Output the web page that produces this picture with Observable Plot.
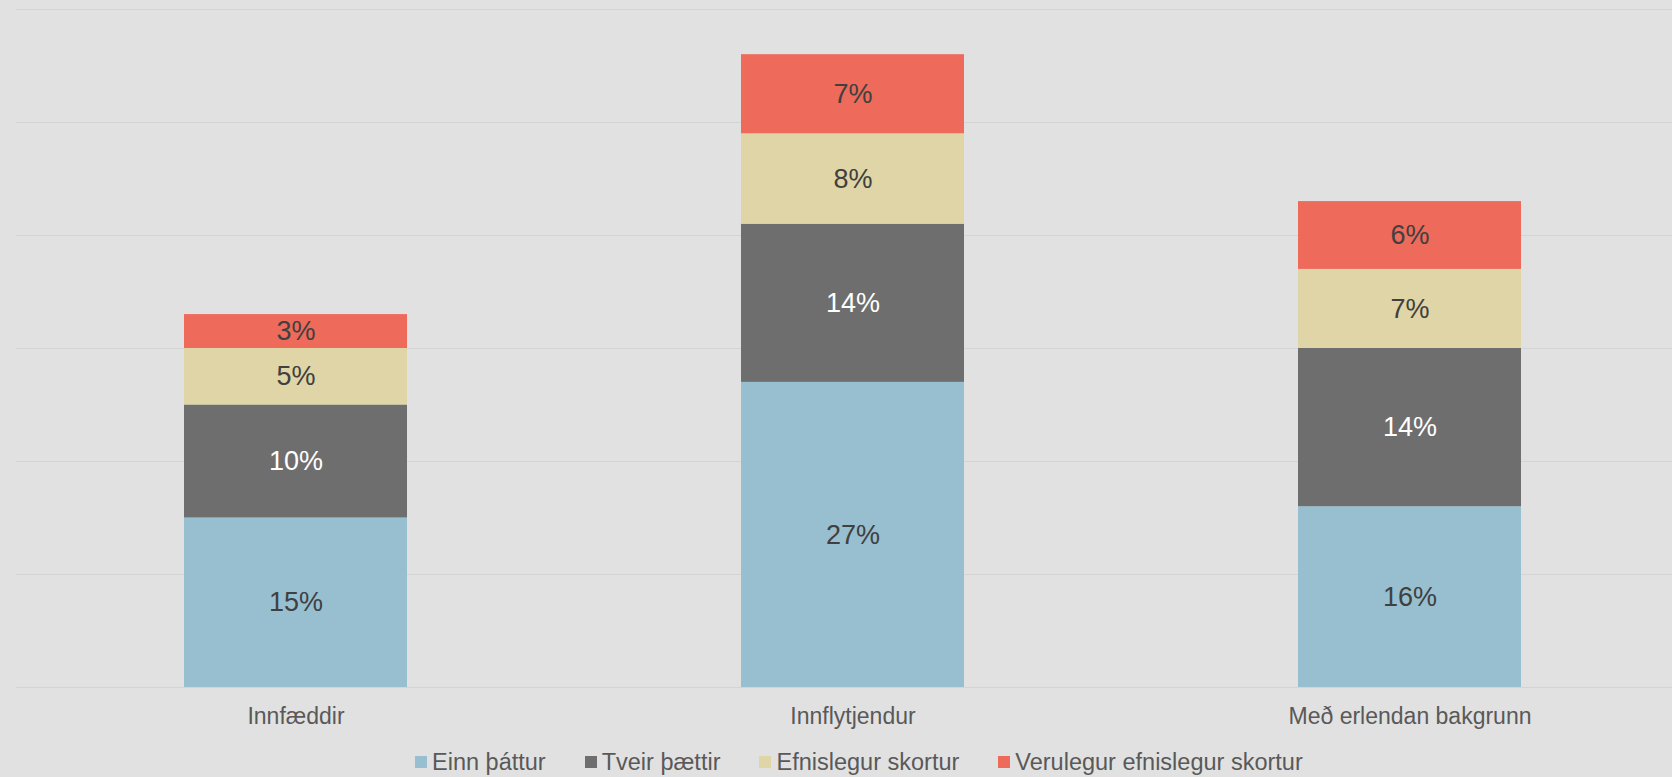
<!DOCTYPE html>
<html>
<head>
<meta charset="utf-8">
<script src="https://cdn.jsdelivr.net/npm/d3@7"></script>
<script src="https://cdn.jsdelivr.net/npm/@observablehq/plot@0.6"></script>
<style>
  html, body { margin: 0; padding: 0; background: #E1E1E1; }
  body { position: relative; width: 1672px; height: 777px; overflow: hidden; font-family: "Liberation Sans", Arial, sans-serif; }
  #legend { position: absolute; left: 415px; top: 748px; display: flex; align-items: center; height: 28px; font-size: 23.5px; color: #595959; line-height: 28px; }
  .item { display: flex; align-items: center; margin-right: 39px; white-space: nowrap; }
  .sw { width: 12px; height: 12px; margin-right: 5px; }
</style>
</head>
<body>
<div id="chart"></div>
<div id="legend"></div>
<script>
const categories = ["Innfæddir", "Innflytjendur", "Með erlendan bakgrunn"];
const seriesNames = ["Einn þáttur", "Tveir þættir", "Efnislegur skortur", "Verulegur efnislegur skortur"];
const einnThattur = [15, 27, 16];
const tveirThaettir = [10, 14, 14];
const efnislegurSkortur = [5, 8, 7];
const verulegurSkortur = [3, 7, 6];
const seriesColors = ["#97BFD0", "#6E6E6E", "#DFD5A6", "#EE6A5A"];
const gridTicks = [0, 10, 20, 30, 40, 50, 60];

const seriesValues = [einnThattur, tveirThaettir, efnislegurSkortur, verulegurSkortur];
const data = [];
seriesNames.forEach((s, i) => {
  categories.forEach((c, j) => {
    data.push({category: c, series: s, value: seriesValues[i][j]});
  });
});

const isGray = d => d.series === "Tveir þættir";

const chart = Plot.plot({
  width: 1672,
  height: 737,
  marginLeft: 16,
  marginRight: 0,
  marginTop: 9,
  marginBottom: 50,
  style: {background: "#E1E1E1", fontFamily: "'Liberation Sans', Arial, sans-serif", fontSize: "23px", color: "#595959"},
  x: {domain: categories, range: [16, 1688], paddingInner: 0.6, paddingOuter: 0.3, tickSize: 0, tickPadding: 20, label: null},
  y: {domain: [0, 60], axis: null},
  color: {domain: seriesNames, range: seriesColors},
  marks: [
    Plot.ruleY(gridTicks, {stroke: "#D4D4D4", strokeWidth: 1.2}),
    Plot.barY(data, Plot.stackY({x: "category", y: "value", fill: "series", inset: 0})),
    Plot.text(data, Plot.stackY({x: "category", y: "value", z: "series",
      text: d => isGray(d) ? "" : d.value + "%", fill: "#404040", fontSize: 27})),
    Plot.text(data, Plot.stackY({x: "category", y: "value", z: "series",
      text: d => isGray(d) ? d.value + "%" : "", fill: "#FFFFFF", fontSize: 27}))
  ]
});
document.getElementById("chart").appendChild(chart);

const legend = document.getElementById("legend");
seriesNames.forEach((s, i) => {
  const item = document.createElement("div");
  item.className = "item";
  const sw = document.createElement("span");
  sw.className = "sw";
  sw.style.background = seriesColors[i];
  const label = document.createElement("span");
  label.textContent = s;
  item.appendChild(sw);
  item.appendChild(label);
  legend.appendChild(item);
});
</script>
</body>
</html>
